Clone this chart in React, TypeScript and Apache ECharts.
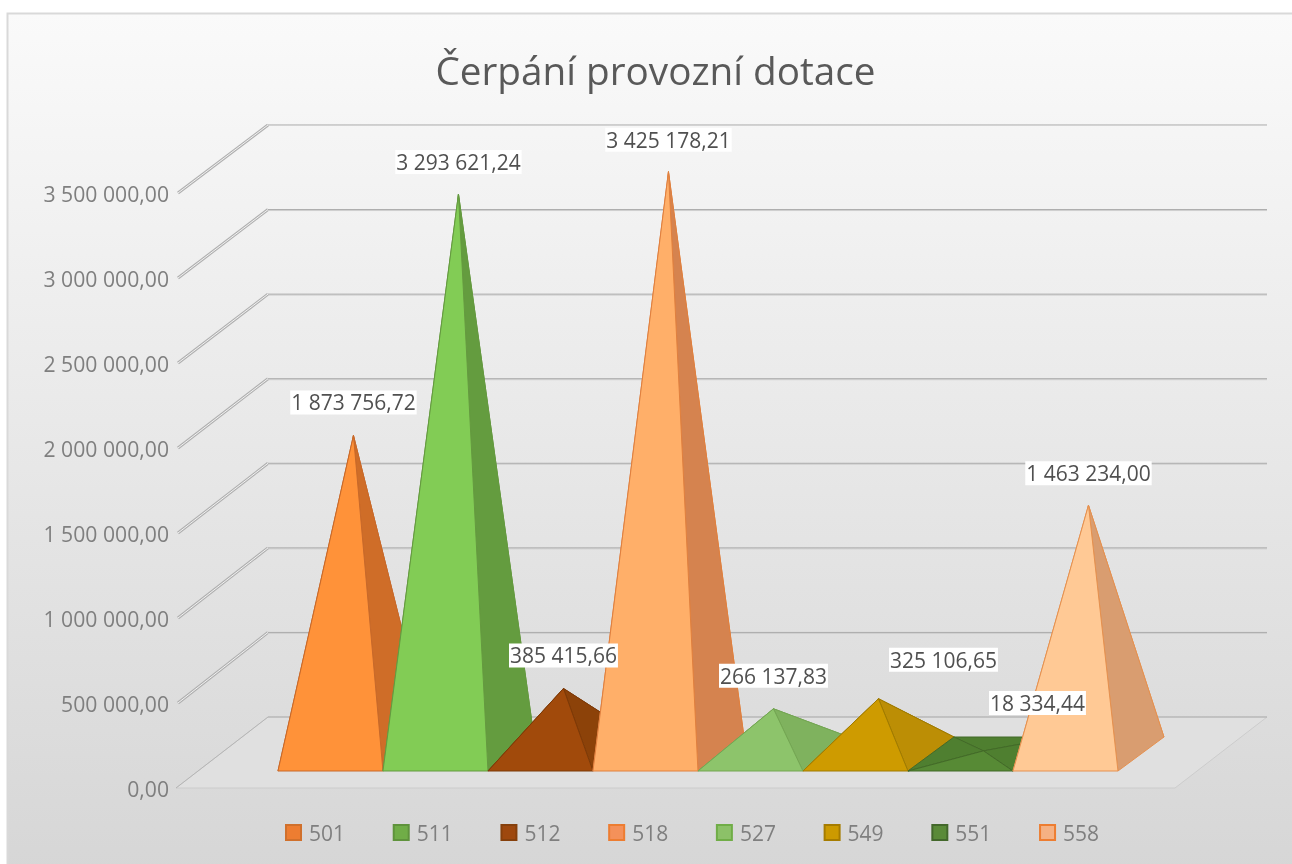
import React, { useEffect, useRef } from "react";
import * as echarts from "echarts";

const titleText = "Čerpání provozní dotace";
const categories = ["501", "511", "512", "518", "527", "549", "551", "558"];
const values = [1873756.72, 3293621.24, 385415.66, 3425178.21, 266137.83, 325106.65, 18334.44, 1463234.0];
const yTicks = [0, 500000, 1000000, 1500000, 2000000, 2500000, 3000000, 3500000];
const faceColors = ["#FF9239", "#82CC55", "#A14A0B", "#FFAF69", "#8DC46B", "#CE9B00", "#578A35", "#FFC995"];
const sideColors = ["#CF6D28", "#649C3F", "#8C4209", "#D5834F", "#7FB25E", "#BC8E05", "#4F7F30", "#D99D70"];
const edgeColors = ["#C8692A", "#659A40", "#7D3A08", "#E0803F", "#74A653", "#A07B00", "#436B28", "#E59150"];
const legendColors = ["#ED7D31", "#70AD47", "#9E480E", "#F4915A", "#8CC168", "#CC9A00", "#5A8A38", "#F5B183"];
const legendBorders = ["#D0702C", "#5F933C", "#86400C", "#ED7D31", "#70AD47", "#A67C00", "#43682B", "#ED7D31"];
const labelOffsets = [[0, -33], [0, -32], [0, -33], [0, -32], [0, -33], [65, -39], [54, -48], [0, -32]];

const FONT = "'Open Sans', 'Noto Sans', sans-serif";
const GRID = { left: 178, top: 193, width: 997, height: 595 };
// oblique 3D projection of the plot, in pixels
const WALL_DX = 90;
const WALL_DY = -71;
const WALL_SCALE = 0.995;
const BAR_LIFT = 17;
const BAR_DX = 46;
const BAR_DY = -34;

const fmt = (v: number) =>
  v.toFixed(2).replace(".", ",").replace(/\B(?=(\d{3})+(?!\d))(?=.*,)/g, " ");

function pyramidItem(index: number) {
  return (params: any, api: any) => {
    const i = api.value(0);
    const v = api.value(1);
    const [x0, base] = api.coord([i, 0]);
    const [x1] = api.coord([i + 1, 0]);
    const [xm, top] = api.coord([i + 0.5, v]);
    const fy = base - BAR_LIFT;
    const by = fy + BAR_DY;
    const apex = [xm + BAR_DX / 2, top - BAR_LIFT + BAR_DY / 2];
    const fl = [x0, fy];
    const fr = [x1, fy];
    const bl = [x0 + BAR_DX, by];
    const br = [x1 + BAR_DX, by];
    const tri = (a: number[], b: number[], fill: string) => ({
      type: "polygon",
      shape: { points: [a, b, apex] },
      style: { fill, stroke: edgeColors[index], lineWidth: 1, lineJoin: "round" },
    });
    return {
      type: "group",
      children: [
        tri(bl, br, sideColors[index]),
        tri(fl, bl, sideColors[index]),
        tri(fr, br, sideColors[index]),
        tri(fl, fr, faceColors[index]),
      ],
    };
  };
}

function wallItem(params: any, api: any) {
  const v = api.value(0);
  const [lx, ly] = api.coord([-0.952, v]);
  const [, zero] = api.coord([0, 0]);
  const [rx] = api.coord([8.543, v]);
  const backY = zero + WALL_DY - (zero - ly) * WALL_SCALE;
  const bx = lx + WALL_DX;
  const ex = rx + WALL_DX + 2;
  const isFloor = v === 0;
  const children: any[] = [];
  if (isFloor) {
    children.push({
      type: "polygon",
      shape: { points: [[lx - 2, ly], [rx, ly], [ex, backY], [bx, backY]] },
      style: { fill: "#E0E0E0", stroke: "#CCCCCC", lineWidth: 1 },
    });
    children.push({
      type: "line",
      shape: { x1: bx, y1: backY, x2: lx - 2, y2: ly },
      style: { stroke: "#B5B5B5", lineWidth: 1 },
    });
    children.push({
      type: "line",
      shape: { x1: bx, y1: backY, x2: ex, y2: backY },
      style: { stroke: "#ADADAD", lineWidth: 1 },
    });
  } else {
    const top = v === yTicks[yTicks.length - 1];
    children.push({
      type: "line",
      shape: { x1: lx, y1: ly, x2: bx, y2: backY },
      style: { stroke: "#B0B0B0", lineWidth: 3 },
    });
    children.push({
      type: "line",
      shape: { x1: lx, y1: ly, x2: bx, y2: backY },
      style: { stroke: "#F2F2F2", lineWidth: 1 },
    });
    if (!top) {
      children.push({
        type: "line",
        shape: { x1: bx, y1: backY + 1, x2: ex, y2: backY + 1 },
        style: { stroke: "#CFCFCF", lineWidth: 1 },
      });
    }
    children.push({
      type: "line",
      shape: { x1: bx, y1: backY, x2: ex, y2: backY },
      style: { stroke: "#ABABAB", lineWidth: 1 },
    });
  }
  return { type: "group", children };
}

function labelItem(params: any, api: any) {
  const i = api.value(0);
  const v = api.value(1);
  const [xm, top] = api.coord([i + 0.5, v]);
  const off = labelOffsets[i];
  return {
    type: "text",
    style: {
      text: fmt(v),
      x: xm + BAR_DX / 2 + off[0],
      y: top - BAR_LIFT + BAR_DY / 2 + off[1],
      align: "center",
      verticalAlign: "middle",
      fontFamily: FONT,
      fontSize: 21,
      lineHeight: 24,
      fill: "#505050",
      backgroundColor: "#FFFFFF",
      padding: [0, 1, 0, 1],
    },
  };
}

export default function App() {
  const ref = useRef<HTMLDivElement>(null);
  useEffect(() => {
    const chart = echarts.init(ref.current!, undefined, { renderer: "svg" });
    const pyramidSeries = categories.map((name, i) => ({
      type: "custom",
      name,
      coordinateSystem: "cartesian2d",
      clip: false,
      z: 5 + i,
      renderItem: pyramidItem(i),
      encode: { x: 0, y: 1 },
      itemStyle: { color: legendColors[i], borderColor: legendBorders[i], borderWidth: 1 },
      data: [[i, values[i]]],
    }));
    chart.setOption({
      animation: false,
      title: {
        text: titleText,
        left: 650.5,
        top: 45,
        textAlign: "center",
        textStyle: { fontFamily: FONT, fontSize: 38.7, fontWeight: "normal", color: "#595959" },
      },
      graphic: [
        {
          type: "rect",
          z: -10,
          silent: true,
          shape: { x: 7.5, y: 13.5, width: 1300, height: 860 },
          style: {
            fill: new echarts.graphic.LinearGradient(0, 0, 0, 1, [
              { offset: 0, color: "#FAFAFA" },
              { offset: 1, color: "#D6D6D6" },
            ]),
            stroke: "#D9D9D9",
            lineWidth: 2,
          },
        },
      ],
      legend: {
        left: 285,
        top: 822,
        padding: 0,
        itemWidth: 15,
        itemHeight: 15,
        itemGap: 47.7,
        icon: "rect",
        data: categories,
        textStyle: { fontFamily: FONT, fontSize: 21, color: "#7F7F7F", padding: [0, 0, 0, 3] },
      },
      grid: GRID,
      xAxis: { type: "value", min: -0.952, max: 8.543, show: false },
      yAxis: {
        type: "value",
        min: 0,
        max: 3500000,
        interval: 500000,
        axisLine: { show: false },
        axisTick: { show: false },
        splitLine: { show: false },
        axisLabel: {
          formatter: (v: number) => fmt(v),
          fontFamily: FONT,
          fontSize: 21.2,
          color: "#7F7F7F",
          margin: 9,
        },
      },
      series: [
        {
          type: "custom",
          name: "walls",
          coordinateSystem: "cartesian2d",
          clip: false,
          z: 1,
          silent: true,
          renderItem: wallItem,
          encode: { y: 0 },
          data: yTicks.map((t) => [t]),
        },
        ...pyramidSeries,
        {
          type: "custom",
          name: "labels",
          coordinateSystem: "cartesian2d",
          clip: false,
          z: 30,
          silent: true,
          renderItem: labelItem,
          encode: { x: 0, y: 1 },
          data: values.map((v, i) => [i, v]),
        },
      ],
    });
    return () => chart.dispose();
  }, []);
  return <div ref={ref} style={{ position: "fixed", left: 0, top: 0, width: 1292, height: 864 }} />;
}
